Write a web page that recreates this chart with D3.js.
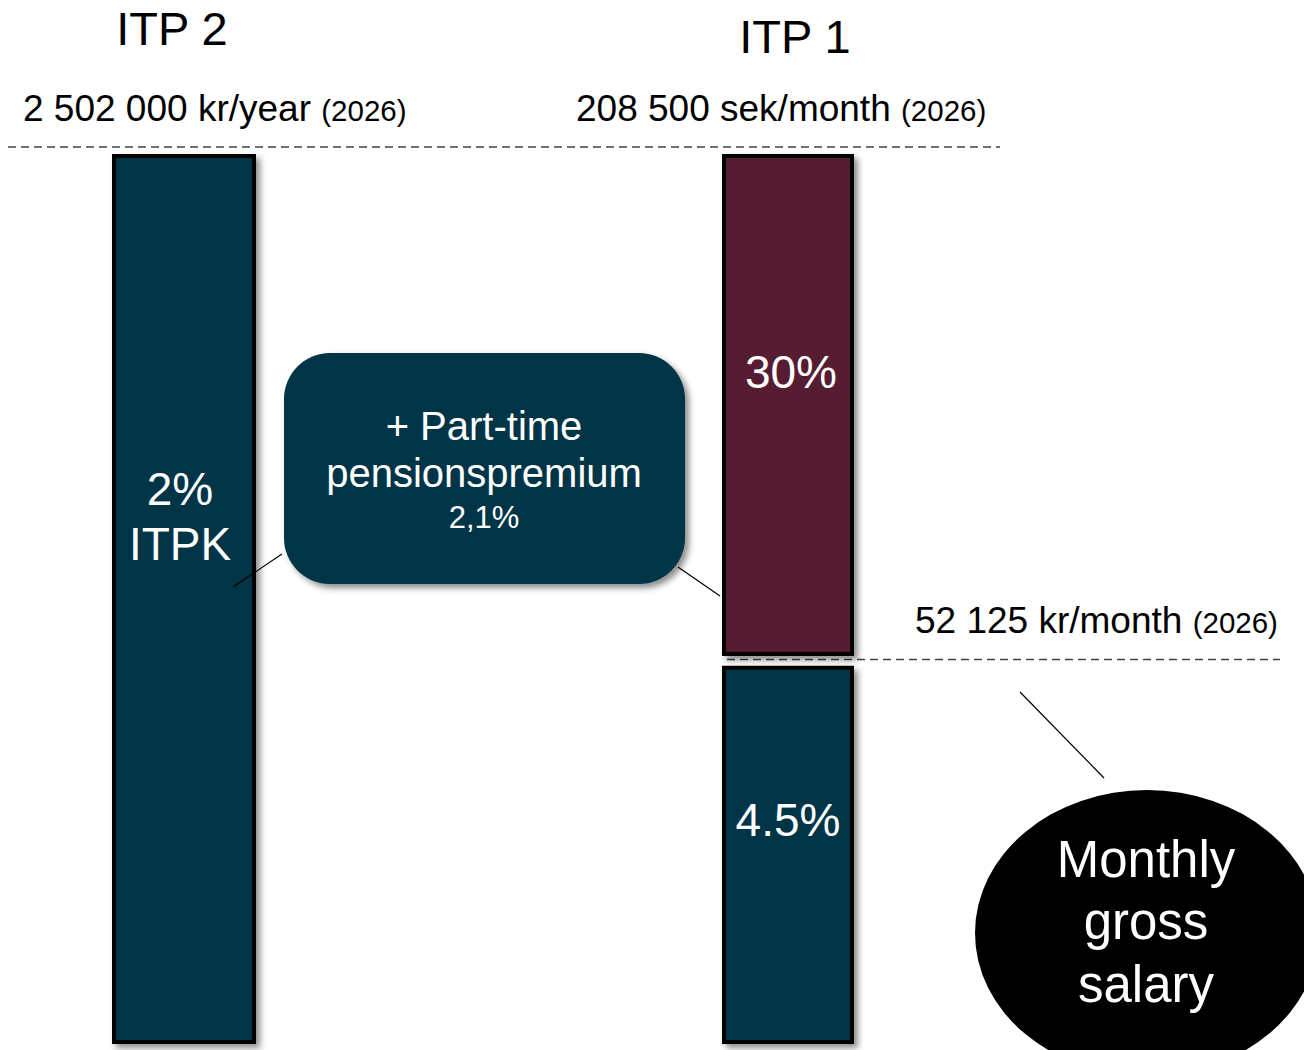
<!DOCTYPE html>
<html>
  <head>
    <meta charset="UTF-8">
    <title>ITP 1 and ITP 2</title>
    <script src="https://d3js.org/d3.v7.min.js"></script>
    <style>
      body { margin: 0; background: #fff; }
      svg { display: block; font-family: "Liberation Sans", Arial, sans-serif; }
    </style>
  </head>
  <body>
    <div id="graph"></div>
    <script>

const plans = ["ITP 2", "ITP 1"];
const ceilingTexts = ["2 502 000 kr/year", "208 500 sek/month"];
const ceilingYears = ["(2026)", "(2026)"];

// schematic bar segments, heights in percent of the ceiling
const segmentPlans = ["ITP 2", "ITP 1", "ITP 1"];
const segmentFrom = [0, 43.6, 0];
const segmentTo = [100, 100, 42.5];
const segmentLabels = [["2%", "ITPK"], ["30%"], ["4.5%"]];

const thresholdLevels = [100.8, 43.2];
const breakText = "52 125 kr/month";
const breakYear = "(2026)";

const premiumLines = ["+ Part-time", "pensionspremium", "2,1%"];
const salaryLines = ["Monthly", "gross", "salary"];

const svgWidth = 1304;
const svgHeight = 1050;

const teal = "#023646";
const maroon = "#541a31";

const svg = d3.select("#graph")
  .append("svg")
  .attr("width", svgWidth)
  .attr("height", svgHeight);

const defs = svg.append("defs");
defs.append("filter")
  .attr("id", "shadow")
  .attr("x", "-20%").attr("y", "-20%")
  .attr("width", "150%").attr("height", "150%")
  .append("feDropShadow")
  .attr("dx", 4)
  .attr("dy", 4)
  .attr("stdDeviation", 3)
  .attr("flood-color", "#000")
  .attr("flood-opacity", 0.45);

const xScale = d3.scalePoint()
  .domain(plans)
  .range([184, 788]);

const barWidth = {"ITP 2": 144, "ITP 1": 132};

const yScale = d3.scaleLinear()
  .domain([0, 100])
  .range([1044, 154]);

// dashed ceiling lines
const thresholdSpans = [[8, 1000], [727, 1280]];
svg.selectAll(".threshold")
  .data(thresholdLevels)
  .enter()
  .append("line")
  .attr("class", "threshold")
  .attr("x1", (d, i) => thresholdSpans[i][0])
  .attr("x2", (d, i) => thresholdSpans[i][1])
  .attr("y1", d => yScale(d))
  .attr("y2", d => yScale(d))
  .attr("stroke", "#444")
  .attr("stroke-width", 1.5)
  .attr("stroke-dasharray", "8,5");

const segments = segmentPlans.map((p, i) => ({
  plan: p, from: segmentFrom[i], to: segmentTo[i], labels: segmentLabels[i], idx: i
}));

svg.selectAll(".bar")
  .data(segments)
  .enter()
  .append("rect")
  .attr("class", "bar")
  .attr("x", d => xScale(d.plan) - barWidth[d.plan] / 2 + 2)
  .attr("y", d => yScale(d.to) + 2)
  .attr("width", d => barWidth[d.plan] - 4)
  .attr("height", d => yScale(d.from) - yScale(d.to) - 4)
  .attr("fill", d => d.idx === 1 ? maroon : teal)
  .attr("stroke", "#000")
  .attr("stroke-width", 4)
  .attr("filter", "url(#shadow)");

// connector lines
const connectors = [[233, 587, 282, 554], [678, 567, 720, 596], [1020, 692, 1104, 778]];
svg.selectAll(".connector")
  .data(connectors)
  .enter()
  .append("line")
  .attr("class", "connector")
  .attr("x1", d => d[0])
  .attr("y1", d => d[1])
  .attr("x2", d => d[2])
  .attr("y2", d => d[3])
  .attr("stroke", "#000")
  .attr("stroke-width", 1.2);

// segment labels
const segLabelCenters = [[180, 489, 544], [791, 372], [788, 820]];
segments.forEach((d, i) => {
  d.labels.forEach((t, j) => {
    svg.append("text")
      .attr("x", segLabelCenters[i][0])
      .attr("y", segLabelCenters[i][j + 1])
      .attr("text-anchor", "middle")
      .attr("dominant-baseline", "central")
      .attr("fill", "#fff")
      .attr("font-size", 46)
      .text(t);
  });
});

// plan titles
const titleY = [45, 53];
const titleX = [172, 795];
svg.selectAll(".title")
  .data(plans)
  .enter()
  .append("text")
  .attr("class", "title")
  .attr("x", (d, i) => titleX[i])
  .attr("y", (d, i) => titleY[i])
  .attr("text-anchor", "middle")
  .attr("font-size", 47)
  .attr("fill", "#000")
  .text(d => d);

// ceiling amounts
const ceilingX = [23, 576];
const ceilingGroup = svg.selectAll(".ceiling")
  .data(ceilingTexts)
  .enter()
  .append("text")
  .attr("class", "ceiling")
  .attr("x", (d, i) => ceilingX[i])
  .attr("y", 121)
  .attr("font-size", 37)
  .attr("fill", "#000");
ceilingGroup.append("tspan").text(d => d + " ");
ceilingGroup.append("tspan")
  .attr("font-size", 29.5)
  .text((d, i) => ceilingYears[i]);

const breakLabel = svg.append("text")
  .attr("x", 915)
  .attr("y", 633)
  .attr("font-size", 37)
  .attr("fill", "#000");
breakLabel.append("tspan").text(breakText + " ");
breakLabel.append("tspan").attr("font-size", 29.5).text(breakYear);

// part-time pension premium box
svg.append("rect")
  .attr("x", 284)
  .attr("y", 353)
  .attr("width", 401)
  .attr("height", 231)
  .attr("rx", 46)
  .attr("fill", teal)
  .attr("filter", "url(#shadow)");

const premiumY = [440, 487, 528];
const premiumSize = [40, 40, 31];
svg.selectAll(".premium")
  .data(premiumLines)
  .enter()
  .append("text")
  .attr("class", "premium")
  .attr("x", 484)
  .attr("y", (d, i) => premiumY[i])
  .attr("text-anchor", "middle")
  .attr("font-size", (d, i) => premiumSize[i])
  .attr("fill", "#fff")
  .text(d => d);

// monthly gross salary ellipse
svg.append("ellipse")
  .attr("cx", 1147)
  .attr("cy", 933)
  .attr("rx", 172)
  .attr("ry", 143)
  .attr("fill", "#000");

const salaryY = [877, 939, 1002];
svg.selectAll(".salary")
  .data(salaryLines)
  .enter()
  .append("text")
  .attr("class", "salary")
  .attr("x", 1146)
  .attr("y", (d, i) => salaryY[i])
  .attr("text-anchor", "middle")
  .attr("font-size", 51)
  .attr("fill", "#fff")
  .text(d => d);

    </script>
  </body>
</html>
